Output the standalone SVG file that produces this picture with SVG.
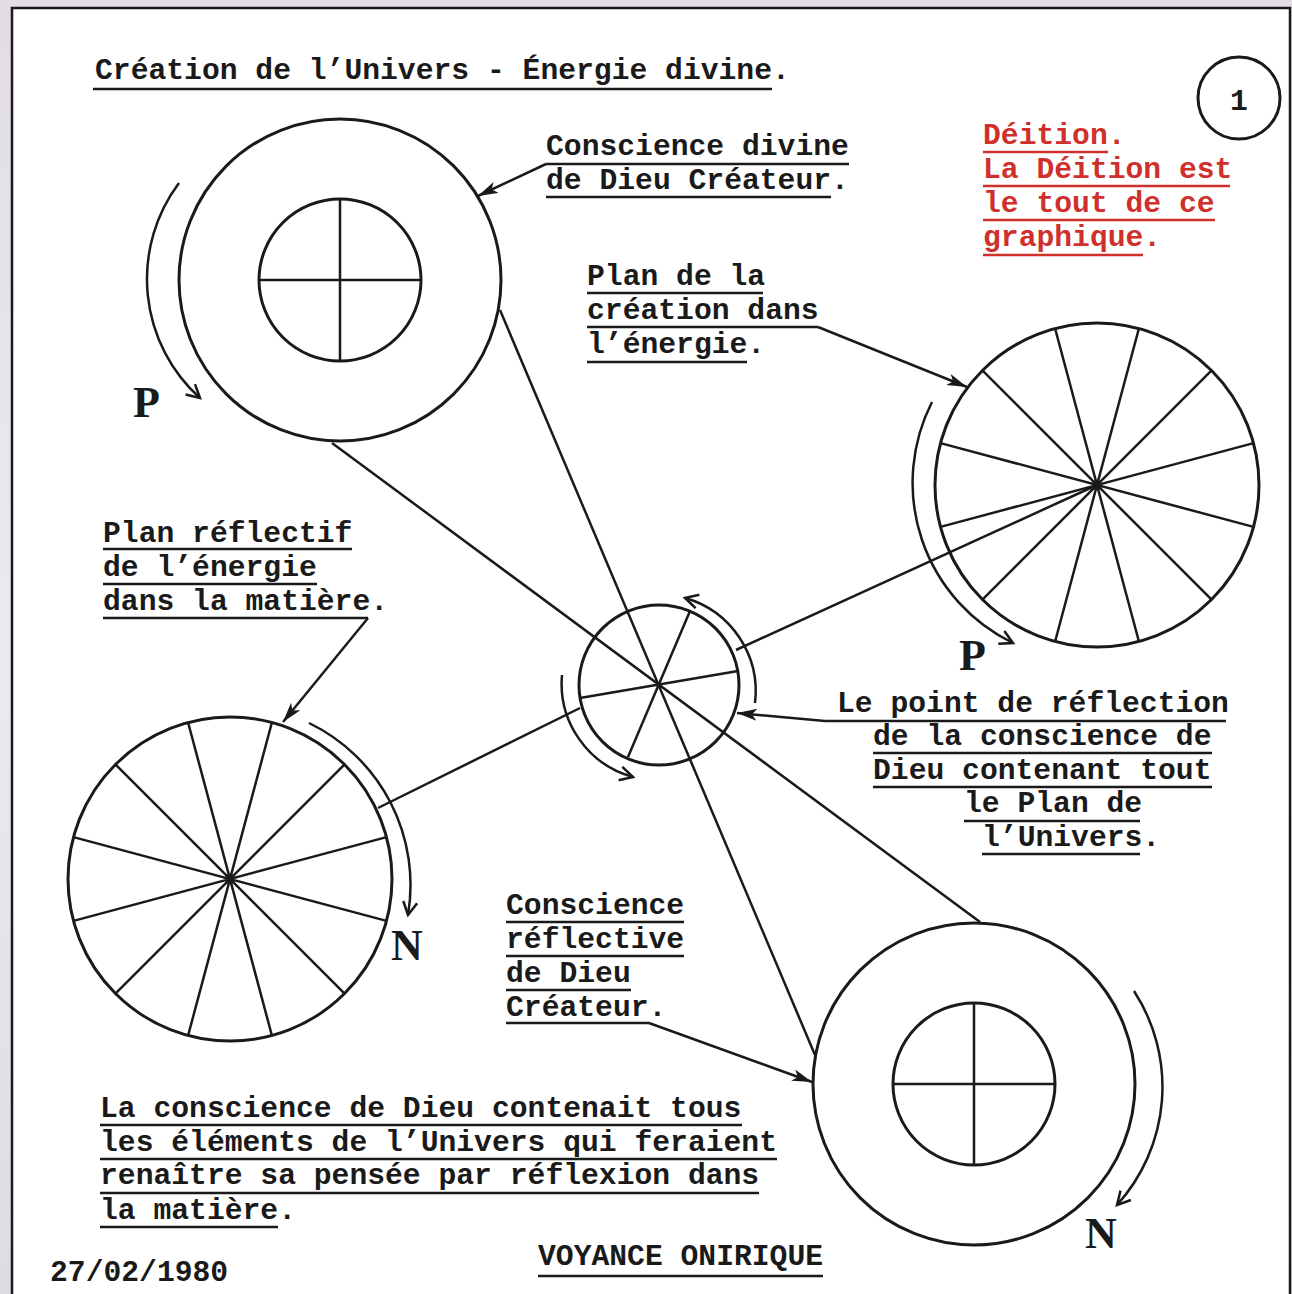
<svg xmlns="http://www.w3.org/2000/svg" xmlns:xlink="http://www.w3.org/1999/xlink" width="1292" height="1294" viewBox="0 0 1292 1294">
<style>
.t{font-family:"Liberation Mono","Courier New",monospace;font-size:29.7px;font-weight:bold;fill:#1a1a1a}
.r{fill:#d0302c}
.big{font-family:"Liberation Serif","Times New Roman",serif;font-size:44px;font-weight:bold;fill:#1a1a1a}
.ul{stroke:#1a1a1a;stroke-width:2.5;fill:none}
.ulr{stroke:#d0302c;stroke-width:2.5;fill:none}
.c{stroke:#1a1a1a;stroke-width:3;fill:none}
.s{stroke:#1a1a1a;stroke-width:2.5;fill:none}
.ln{stroke:#1a1a1a;stroke-width:2.5;fill:none}
.ptr{stroke:#1a1a1a;stroke-width:2.5;fill:none;marker-end:url(#fa)}
.rot{stroke:#1a1a1a;stroke-width:2.5;fill:none;marker-end:url(#oa)}
</style>
<defs>
<linearGradient id="bg" x1="0" y1="0" x2="0" y2="1">
<stop offset="0" stop-color="#e2dde3"/>
<stop offset="0.5" stop-color="#e9ebf0"/>
<stop offset="1" stop-color="#dcdde2"/>
</linearGradient>
<marker id="fa" markerUnits="userSpaceOnUse" markerWidth="24" markerHeight="14" refX="20" refY="6" orient="auto">
<path d="M0,0 L20,6 L0,12 L5,6 z" fill="#1a1a1a"/>
</marker>
<marker id="oa" markerUnits="userSpaceOnUse" markerWidth="18" markerHeight="18" refX="14" refY="8" orient="auto">
<path d="M1,1 L14,8 L1,15" fill="none" stroke="#1a1a1a" stroke-width="2.5"/>
</marker>
<g id="wheel">
<circle cx="0" cy="0" r="162" class="c"/>
<path class="s" d="M41.9,-156.5 L-41.9,156.5 M-41.9,-156.5 L41.9,156.5 M114.6,-114.6 L-114.6,114.6 M-114.6,-114.6 L114.6,114.6 M156.5,-41.9 L-156.5,41.9 M-156.5,-41.9 L156.5,41.9"/>
</g>
<g id="cons">
<circle cx="0" cy="0" r="161" class="c"/>
<circle cx="0" cy="0" r="81" class="c"/>
<path class="s" d="M0,-81 V81 M-81,0 H81"/>
</g>
</defs>
<rect x="0" y="0" width="1292" height="1294" fill="url(#bg)"/>
<rect x="12" y="8" width="1278" height="1300" fill="#ffffff" stroke="#1a1a1a" stroke-width="2.5"/>

<g id="title">
<text class="t" x="95" y="79">Création de l’Univers - Énergie divine.</text>
<line class="ul" x1="93" y1="89" x2="772" y2="89"/>
</g>

<g id="page-number">
<circle cx="1239" cy="98" r="41" class="c" stroke-width="2.5"/>
<text class="t" x="1239" y="110" text-anchor="middle" font-size="35px">1</text>
</g>

<g id="deition">
<text class="t r" x="983" y="144">Déition.</text>
<text class="t r" x="983" y="178">La Déition est</text>
<text class="t r" x="983" y="212">le tout de ce</text>
<text class="t r" x="983" y="246">graphique.</text>
<path class="ulr" d="M983,152 H1108 M983,186 H1230 M983,220 H1215 M983,255 H1143"/>
</g>

<g id="conscience-divine">
<use xlink:href="#cons" href="#cons" x="340" y="280"/>
<path class="rot" d="M179,183 A160,160 0 0 0 200,398"/>
<text class="big" x="133" y="417">P</text>
</g>

<g id="plan-creation">
<use xlink:href="#wheel" href="#wheel" x="1097" y="485"/>
<path class="rot" d="M932,402 A178,178 0 0 0 1013,643"/>
<text class="big" x="959" y="670">P</text>
</g>

<g id="point-reflection">
<circle cx="659" cy="685" r="80" class="c"/>
<path class="s" d="M690,611 L628,757 M738,671 L580,698"/>
<path class="rot" d="M755,703 A97,97 0 0 0 685,598"/>
<path class="rot" d="M562,675 A97,97 0 0 0 633,777"/>
</g>

<g id="plan-reflectif">
<use xlink:href="#wheel" href="#wheel" x="230" y="879"/>
<path class="rot" d="M309,723 A180,180 0 0 1 408,915"/>
<text class="big" x="391" y="960">N</text>
</g>

<g id="conscience-reflective">
<use xlink:href="#cons" href="#cons" x="974" y="1084"/>
<path class="rot" d="M1134,991 A176,176 0 0 1 1117,1205"/>
<text class="big" x="1085" y="1248">N</text>
</g>

<g id="connectors">
<line class="ln" x1="332" y1="443" x2="980" y2="922"/>
<line class="ln" x1="500" y1="310" x2="815" y2="1055"/>
<line class="ln" x1="378" y1="808" x2="580" y2="708"/>
<line class="ln" x1="736" y1="650" x2="1097" y2="485"/>
<path class="ptr" d="M546,164 L478,196"/>
<path class="ptr" d="M818,327 L967,387"/>
<path class="ptr" d="M368,618 L283,722"/>
<path class="ptr" d="M825,721 L737,713"/>
<path class="ptr" d="M649,1023 L812,1082"/>
</g>

<g id="label-conscience-divine">
<text class="t" x="546" y="155">Conscience divine</text>
<text class="t" x="546" y="189">de Dieu Créateur.</text>
<path class="ul" d="M546,164 H849 M546,197 H831"/>
</g>

<g id="label-plan-creation">
<text class="t" x="587" y="285">Plan de la</text>
<text class="t" x="587" y="319">création dans</text>
<text class="t" x="587" y="353">l’énergie.</text>
<path class="ul" d="M587,293 H763 M587,327 H818 M587,362 H747"/>
</g>

<g id="label-plan-reflectif">
<text class="t" x="103" y="542">Plan réflectif</text>
<text class="t" x="103" y="576">de l’énergie</text>
<text class="t" x="103" y="610">dans la matière.</text>
<path class="ul" d="M103,549 H352 M103,584 H317 M103,618 H368"/>
</g>

<g id="label-point-reflection">
<text class="t" x="837" y="712">Le point de réflection</text>
<text class="t" x="873" y="745">de la conscience de</text>
<text class="t" x="873" y="779">Dieu contenant tout</text>
<text class="t" x="964" y="812">le Plan de</text>
<text class="t" x="982" y="846">l’Univers.</text>
<path class="ul" d="M825,721 H1226 M873,753 H1212 M873,787 H1212 M964,821 H1140 M982,854 H1140"/>
</g>

<g id="label-conscience-reflective">
<text class="t" x="506" y="914">Conscience</text>
<text class="t" x="506" y="948">réflective</text>
<text class="t" x="506" y="982">de Dieu</text>
<text class="t" x="506" y="1016">Créateur.</text>
<path class="ul" d="M506,922 H684 M506,956 H684 M506,990 H631 M506,1023 H649"/>
</g>

<g id="label-bottom">
<text class="t" x="100" y="1117">La conscience de Dieu contenait tous</text>
<text class="t" x="100" y="1151">les éléments de l’Univers qui feraient</text>
<text class="t" x="100" y="1184">renaître sa pensée par réflexion dans</text>
<text class="t" x="100" y="1219">la matière.</text>
<path class="ul" d="M100,1125 H742 M100,1159 H777 M100,1193 H759 M100,1227 H278"/>
</g>

<g id="date">
<text class="t" x="50" y="1281">27/02/1980</text>
</g>

<g id="voyance">
<text class="t" x="538" y="1265">VOYANCE ONIRIQUE</text>
<line class="ul" x1="538" y1="1276" x2="823" y2="1276"/>
</g>
</svg>
